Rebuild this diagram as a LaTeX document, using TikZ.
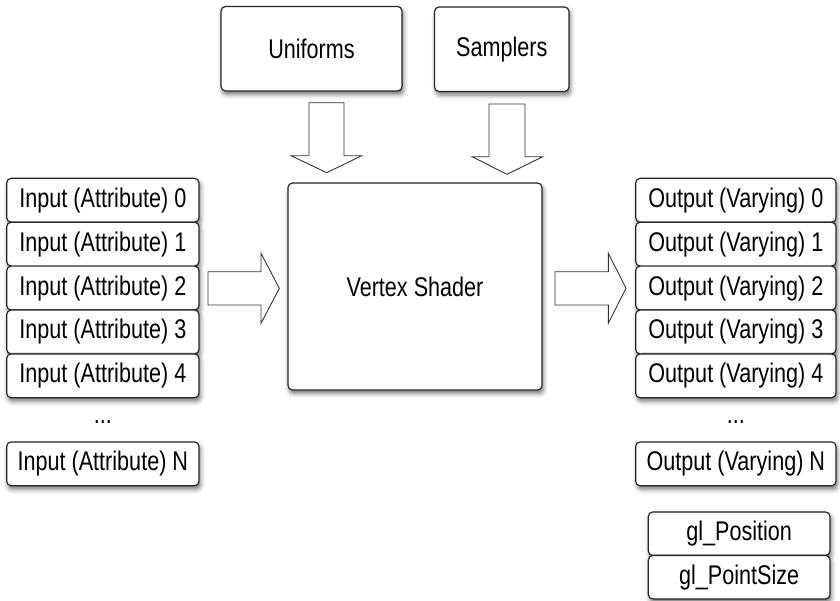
\documentclass[tikz,border=0pt]{standalone}
\usepackage{fontspec}
\setmainfont{Liberation Sans}[FakeStretch=0.8]
\usetikzlibrary{shadows.blur}
\begin{document}
\begin{tikzpicture}[x=1pt,y=-1pt,
  box/.style={draw=black!85, line width=1.2pt, rounded corners=4.5pt, fill=white,
    inner sep=0pt, font=\fontsize{27}{32}\selectfont,
    blur shadow={shadow xshift=1.5pt, shadow yshift=-3.5pt, shadow blur radius=4.5pt, shadow opacity=55}},
  inbox/.style={box, minimum width=192.3pt, minimum height=43.9pt},
  outbox/.style={box, minimum width=200.3pt, minimum height=43.9pt},
  glbox/.style={box, minimum width=181.7pt, minimum height=43.5pt},
  dots/.style={font=\fontsize{27}{32}\selectfont, inner sep=0pt, anchor=base},
  blockarrow/.style={draw=black!80, line width=0.9pt, fill=white, line join=miter}]
\useasboundingbox (0,0) rectangle (840,600);

% top boxes
\node[box, minimum width=181pt, minimum height=84.5pt] (unif) at (311.5,48.75) {Uniforms};
\node[box, minimum width=134.5pt, minimum height=84.5pt] (samp) at (501.75,49.25) {Samplers};

% vertex shader
\node[box, minimum width=254pt, minimum height=207pt] (vs) at (415,286.5) {Vertex Shader};

% inputs
\node[inbox] (in0) at (102.85,200.25) {Input (Attribute) 0};
\node[inbox] (in1) at (102.85,244.15) {Input (Attribute) 1};
\node[inbox] (in2) at (102.85,288.05) {Input (Attribute) 2};
\node[inbox] (in3) at (102.85,331.95) {Input (Attribute) 3};
\node[inbox] (in4) at (102.85,375.85) {Input (Attribute) 4};
\node[dots] (indots) at (102.85,423) {...};
\node[inbox] (inN) at (102.85,463.85) {Input (Attribute) N};

% outputs
\node[outbox] (out0) at (735.85,200.25) {Output (Varying) 0};
\node[outbox] (out1) at (735.85,244.15) {Output (Varying) 1};
\node[outbox] (out2) at (735.85,288.05) {Output (Varying) 2};
\node[outbox] (out3) at (735.85,331.95) {Output (Varying) 3};
\node[outbox] (out4) at (735.85,375.85) {Output (Varying) 4};
\node[dots] (outdots) at (735.85,423) {...};
\node[outbox] (outN) at (735.85,463.85) {Output (Varying) N};

% built-ins
\node[glbox] (glpos) at (739.15,533.7) {gl\_Position};
\node[glbox] (glps) at (739.15,577.2) {gl\_PointSize};

% block arrows
\draw[blockarrow] (309,102.7) -- (344,102.7) -- (344,155.7) -- (361.7,155.7) -- (326.7,172.7)
  -- (291,155.7) -- (309,155.7) -- cycle;
\draw[blockarrow] (489,104) -- (525,104) -- (525,156.7) -- (542.7,156.7) -- (507,174.3)
  -- (472,156.7) -- (489,156.7) -- cycle;
\draw[blockarrow] (208,271.7) -- (261,271.7) -- (261,253.3) -- (279.3,288.3) -- (261,323.3)
  -- (261,305) -- (208,305) -- cycle;
\draw[blockarrow] (555,271.7) -- (608.3,271.7) -- (608.3,253.3) -- (626,288.3) -- (608.3,323.3)
  -- (608.3,305) -- (555,305) -- cycle;
\end{tikzpicture}
\end{document}
